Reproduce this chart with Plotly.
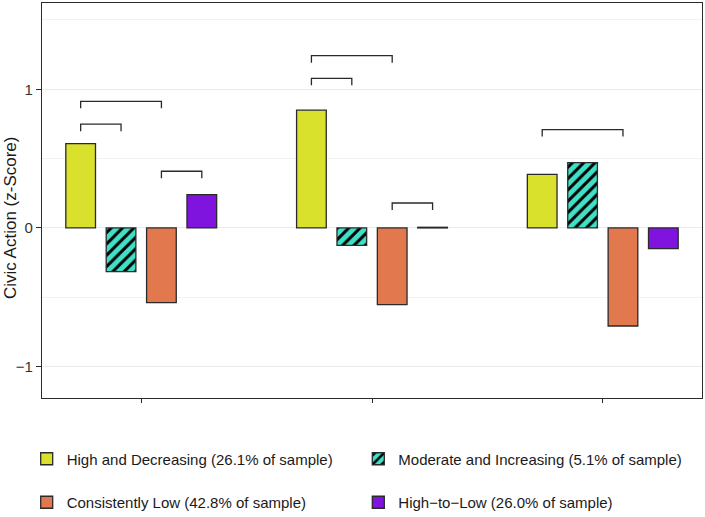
import plotly.graph_objects as go

# ---- data ----
groups = [1, 2, 3]
series_names = [
    "High and Decreasing (26.1% of sample)",
    "Moderate and Increasing (5.1% of sample)",
    "Consistently Low (42.8% of sample)",
    "High\u2212to\u2212Low (26.0% of sample)",
]
high_decreasing = [0.608, 0.849, 0.387]
moderate_increasing = [-0.315, -0.125, 0.471]
consistently_low = [-0.538, -0.553, -0.707]
high_to_low = [0.240, 0.005, -0.149]

# significance brackets: (group, series_a, series_b, height)
brackets = [
    (1, 0, 1, 0.748), (1, 0, 2, 0.913), (1, 2, 3, 0.409),
    (2, 0, 1, 1.079), (2, 0, 2, 1.242), (2, 2, 3, 0.180),
    (3, 0, 2, 0.709),
]

y_ticks = [-1, 0, 1]
y_ticktext = ["\u22121", "0", "1"]
y_minor = [-0.5, 0.5, 1.5]

# ---- styling ----
colors = ["#d9e12c", "#40e0c8", "#e1784e", "#8014df"]
outline = "#2a2a2a"
font_family = "Liberation Sans, Arial, sans-serif"
dodge_width = 0.7
n_series = 4

values = [high_decreasing, moderate_increasing, consistently_low, high_to_low]
legend_ids = ["legend", "legend2", "legend3", "legend4"]

fig = go.Figure()
for i, (name, vals) in enumerate(zip(series_names, values)):
    marker = dict(color=colors[i], line=dict(color=outline, width=1.3))
    if i == 1:
        marker["pattern"] = dict(shape="/", fgcolor="black", bgcolor=colors[i],
                                 fillmode="replace", size=8, solidity=0.38)
    fig.add_trace(go.Bar(x=groups, y=vals, name=name, marker=marker,
                         legend=legend_ids[i], showlegend=True))

# brackets
slot = dodge_width / n_series
tip = 0.05
for g, a, b, h in brackets:
    xa = g + (a - (n_series - 1) / 2) * slot
    xb = g + (b - (n_series - 1) / 2) * slot
    fig.add_shape(type="path",
                  path=f"M {xa},{h - tip} L {xa},{h} L {xb},{h} L {xb},{h - tip}",
                  xref="x", yref="y", line=dict(color=outline, width=1.3))

# plot area: x 42..702, y 3..398 px
W, H = 705, 517
L, R, T, B = 42, 3, 3, 119
pw, ph = W - L - R, H - T - B

def px_x(px):
    return (px - L) / pw

def px_y(py):
    return (H - B - py) / ph

legend_common = dict(orientation="h", bgcolor="rgba(0,0,0,0)",
                     font=dict(family=font_family, size=15, color="#1a1a1a"),
                     xanchor="left", yanchor="middle", borderwidth=0)

fig.update_layout(
    width=W, height=H,
    margin=dict(l=L, r=R, t=T, b=B, autoexpand=False),
    paper_bgcolor="white", plot_bgcolor="white",
    showlegend=True,
    barmode="group", bargap=0.3, bargroupgap=0.265,
    font=dict(family=font_family, color="#1a1a1a"),
    legend=dict(**legend_common, x=px_x(26.7), y=px_y(459)),
    legend2=dict(**legend_common, x=px_x(358.3), y=px_y(459)),
    legend3=dict(**legend_common, x=px_x(26.7), y=px_y(502.5)),
    legend4=dict(**legend_common, x=px_x(358.3), y=px_y(502.5)),
    xaxis=dict(range=[0.57, 3.43], tickvals=groups, ticktext=["", "", ""],
               ticks="outside", ticklen=4, tickcolor=outline, tickwidth=1.2,
               showgrid=False, zeroline=False, automargin=False,
               showline=True, linecolor=outline, linewidth=1.3, mirror=True),
    yaxis=dict(range=[-1.226, 1.622], tickvals=y_ticks, ticktext=y_ticktext,
               ticks="outside", ticklen=5, tickcolor=outline, tickwidth=1.2,
               tickfont=dict(size=15, color="#333333"), automargin=False,
               showgrid=True, gridcolor="#ebebeb", gridwidth=1.1,
               minor=dict(tickvals=y_minor, showgrid=True, gridcolor="#f3f3f3",
                          gridwidth=0.7, ticks=""),
               zeroline=False,
               showline=True, linecolor=outline, linewidth=1.3, mirror=True),
    annotations=[dict(text="Civic Action (z-Score)", textangle=-90,
                      xref="paper", yref="paper", x=px_x(10), y=px_y(218),
                      xanchor="center", yanchor="middle", showarrow=False,
                      font=dict(family=font_family, size=17, color="#1a1a1a"))],
)

post = ("document.documentElement.style.margin='0';"
        "document.documentElement.style.overflow='hidden';"
        "document.body.style.margin='0';document.body.style.padding='0';"
        "document.body.style.overflow='hidden';")

fig.write_html("out.html", post_script=post,
               config={"responsive": False, "displayModeBar": False})
